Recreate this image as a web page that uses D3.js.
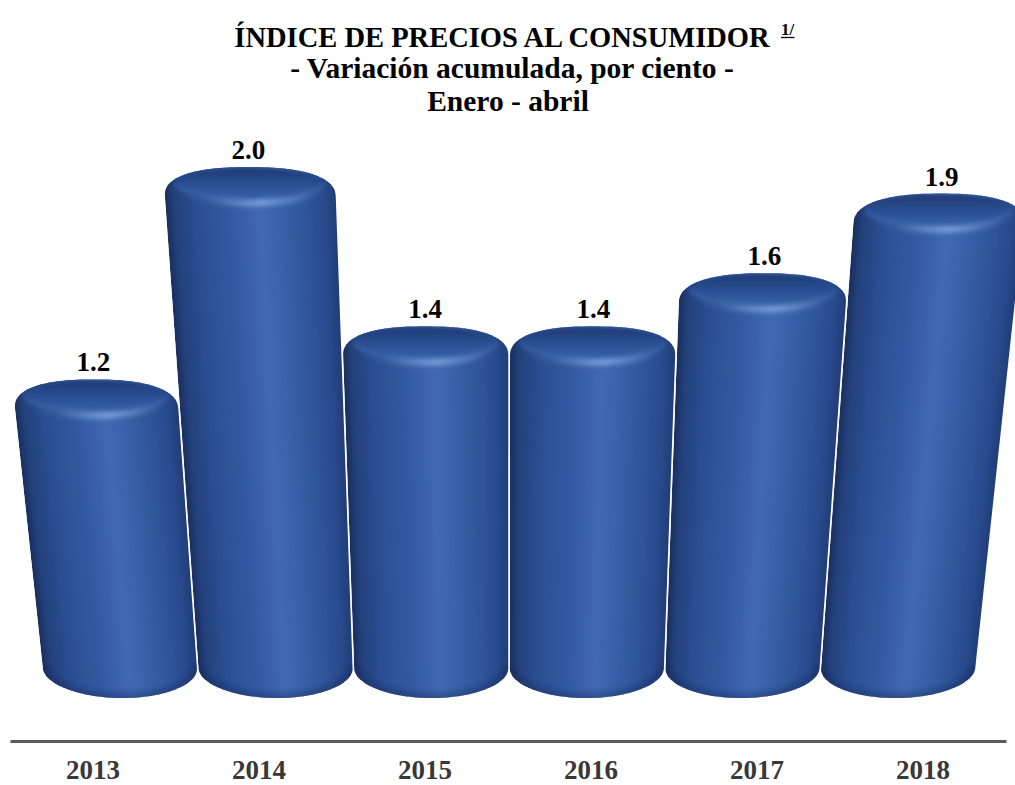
<!DOCTYPE html>
<html>
<head>
<meta charset="utf-8">
<script src="https://cdn.jsdelivr.net/npm/d3@7"></script>
<style>
  html, body { margin: 0; padding: 0; background: #ffffff; }
  svg { display: block; }
  text { font-family: "Liberation Serif", "Times New Roman", serif; font-weight: bold; }
</style>
</head>
<body>
<svg id="chart" width="1015" height="785"></svg>
<script>
// Data
const years = ["2013", "2014", "2015", "2016", "2017", "2018"];
const values = [1.2, 2.0, 1.4, 1.4, 1.6, 1.9];
const valueLabels = ["1.2", "2.0", "1.4", "1.4", "1.6", "1.9"];
const titleLines = [
  "ÍNDICE DE PRECIOS AL CONSUMIDOR",
  "- Variación acumulada, por ciento -",
  "Enero - abril"
];
const footnoteMark = "1/";

const svg = d3.select("#chart");
const defs = svg.append("defs");

// Scales
const x = d3.scaleBand().domain(years).range([42, 976]).paddingInner(0.01).paddingOuter(0.005);
const y = d3.scaleLinear().domain([0, 2]).range([698, 167]);
const xAxisScale = d3.scaleBand().domain(years).range([10, 1006]);

// Perspective: vertical edges converge toward a point far below the chart
const X0 = 507, VY = 5000, Y_REF = 668;
function warp(p) {
  const k = (VY - p[1]) / (VY - Y_REF);
  return [X0 + (p[0] - X0) * k, p[1]];
}
const line = d3.line();

// Cylinder shading across its width
const bodyStops = [
  [0.00, "#1a2e5b"], [0.05, "#22407b"], [0.18, "#2b4e92"], [0.38, "#335aa2"],
  [0.55, "#4069b1"], [0.68, "#3762a8"], [0.84, "#2e5397"], [0.94, "#28488b"],
  [1.00, "#213d78"]
];
const bodyColor = d3.scaleLinear().domain(bodyStops.map(s => s[0])).range(bodyStops.map(s => s[1])).interpolate(d3.interpolateRgb);

// Filters
function blurFilter(id, sd) {
  const f = defs.append("filter").attr("id", id)
    .attr("x", "-20%").attr("y", "-50%").attr("width", "140%").attr("height", "200%");
  f.append("feGaussianBlur").attr("stdDeviation", sd);
}
blurFilter("blurFace", 1.6);
blurFilter("blurHl", 2.6);
blurFilter("blurBottom", 3);

// Top face gradient
const faceGrad = defs.append("linearGradient").attr("id", "faceGrad")
  .attr("x1", 0).attr("y1", 0).attr("x2", 0).attr("y2", 1);
faceGrad.append("stop").attr("offset", 0).attr("stop-color", "#1f3a72");
faceGrad.append("stop").attr("offset", 0.55).attr("stop-color", "#2b5096");
faceGrad.append("stop").attr("offset", 1).attr("stop-color", "#3862a9");

const TOP_H = 30, TOP_N = 2.4, BOT_RY = 30;
const FACE_RY = 16;

years.forEach((yr, i) => {
  const v = values[i];
  const R = x.bandwidth() / 2;
  const c = x(yr) + R;
  const yT = y(v);
  const yB = y(0);
  const yCorner = yB - BOT_RY;
  const yShoulder = yT + TOP_H;

  // Silhouette
  const pts = [];
  pts.push([c - R, yCorner]);
  pts.push([c - R, yShoulder]);
  const M = 80;
  for (let t = 0; t <= M; t++) {
    const th = Math.PI - Math.PI * t / M;
    const cx = Math.cos(th), sy = Math.sin(th);
    pts.push([c + R * Math.sign(cx) * Math.pow(Math.abs(cx), 2 / TOP_N),
              yShoulder - TOP_H * Math.pow(Math.abs(sy), 2 / TOP_N)]);
  }
  pts.push([c + R, yCorner]);
  for (let t = 0; t <= M; t++) {
    const th = Math.PI * t / M;
    pts.push([c + R * Math.cos(th), yCorner + BOT_RY * Math.sin(th)]);
  }
  const silhouette = line(pts.map(warp)) + "Z";

  defs.append("clipPath").attr("id", "clip" + i).append("path").attr("d", silhouette);

  const g = svg.append("g").attr("class", "cylinder").attr("clip-path", `url(#clip${i})`);

  // Body slices
  const N = 60;
  for (let s = 0; s < N; s++) {
    const u0 = s / N, u1 = (s + 1.6) / N, um = (s + 0.5) / N;
    const xa = c - R + 2 * R * u0, xb = c - R + 2 * R * Math.min(u1, 1.02);
    const q = [[xa, yT - 4], [xb, yT - 4], [xb, yB + 4], [xa, yB + 4]].map(warp);
    g.append("path").attr("d", line(q) + "Z").attr("fill", bodyColor(um));
  }

  // Top face
  const faceCy = yT + FACE_RY + 1;
  const facePts = [];
  for (let t = 0; t <= 120; t++) {
    const th = 2 * Math.PI * t / 120;
    facePts.push([c + (R - 9) * Math.cos(th), faceCy + FACE_RY * Math.sin(th)]);
  }
  g.append("path").attr("d", line(facePts.map(warp)) + "Z")
    .attr("fill", "url(#faceGrad)").attr("filter", "url(#blurFace)");

  // Rim highlight along the front of the top face
  const hlPts = [];
  for (let t = 0; t <= 60; t++) {
    const th = Math.PI * t / 60;
    hlPts.push([c + (R - 12) * Math.cos(th), faceCy + (FACE_RY + 3) * Math.sin(th)]);
  }
  const hlW = hlPts.map(warp);
  const hlL = warp([c - R, faceCy + FACE_RY]), hlR = warp([c + R, faceCy + FACE_RY]);
  const hg = defs.append("linearGradient").attr("id", "hl" + i)
    .attr("gradientUnits", "userSpaceOnUse")
    .attr("x1", hlL[0]).attr("y1", 0).attr("x2", hlR[0]).attr("y2", 0);
  [[0, 0], [0.25, 0.15], [0.45, 0.7], [0.57, 1], [0.7, 0.6], [0.88, 0.12], [1, 0]].forEach(s => {
    hg.append("stop").attr("offset", s[0]).attr("stop-color", "#80a3dd").attr("stop-opacity", s[1]);
  });
  g.append("path").attr("d", line(hlW)).attr("fill", "none")
    .attr("stroke", `url(#hl${i})`).attr("stroke-width", 6).attr("filter", "url(#blurHl)");

  // Darker rim along the bottom
  const botPts = [];
  for (let t = 0; t <= 60; t++) {
    const th = Math.PI * t / 60;
    botPts.push([c + R * Math.cos(th), yCorner + BOT_RY * Math.sin(th)]);
  }
  g.append("path").attr("d", line(botPts.map(warp))).attr("fill", "none")
    .attr("stroke", "#0f2452").attr("stroke-opacity", 0.45).attr("stroke-width", 8)
    .attr("filter", "url(#blurBottom)");

  // Value label
  const lp = warp([c, yT - 8]);
  svg.append("text").attr("class", "value-label")
    .attr("x", lp[0]).attr("y", lp[1])
    .attr("text-anchor", "middle").attr("font-size", 27).attr("fill", "#000")
    .text(valueLabels[i]);
});

// Category axis
const axis = svg.append("g").attr("class", "x-axis")
  .attr("transform", "translate(0,741)")
  .call(d3.axisBottom(xAxisScale).tickSize(0).tickSizeOuter(0));
axis.select(".domain").attr("stroke", "#5b5b5b").attr("stroke-width", 3);
axis.selectAll("text")
  .attr("y", 38).attr("dy", null)
  .attr("font-size", 27).attr("fill", "#383838")
  .style("font-family", "'Liberation Serif', 'Times New Roman', serif")
  .style("font-weight", "bold");

// Title
const title = svg.append("g").attr("class", "title");
title.append("text").attr("x", 502).attr("y", 47).attr("text-anchor", "middle")
  .attr("font-size", 28.5).text(titleLines[0]);
title.append("text").attr("x", 512).attr("y", 78).attr("text-anchor", "middle")
  .attr("font-size", 29.5).text(titleLines[1]);
title.append("text").attr("x", 508).attr("y", 111).attr("text-anchor", "middle")
  .attr("font-size", 29.5).text(titleLines[2]);
const fm = title.append("text").attr("x", 781).attr("y", 35).attr("font-size", 17).text(footnoteMark);
const fmBox = fm.node().getBBox();
title.append("line").attr("x1", fmBox.x).attr("x2", fmBox.x + fmBox.width)
  .attr("y1", 37.5).attr("y2", 37.5).attr("stroke", "#000").attr("stroke-width", 1.3);
</script>
</body>
</html>
